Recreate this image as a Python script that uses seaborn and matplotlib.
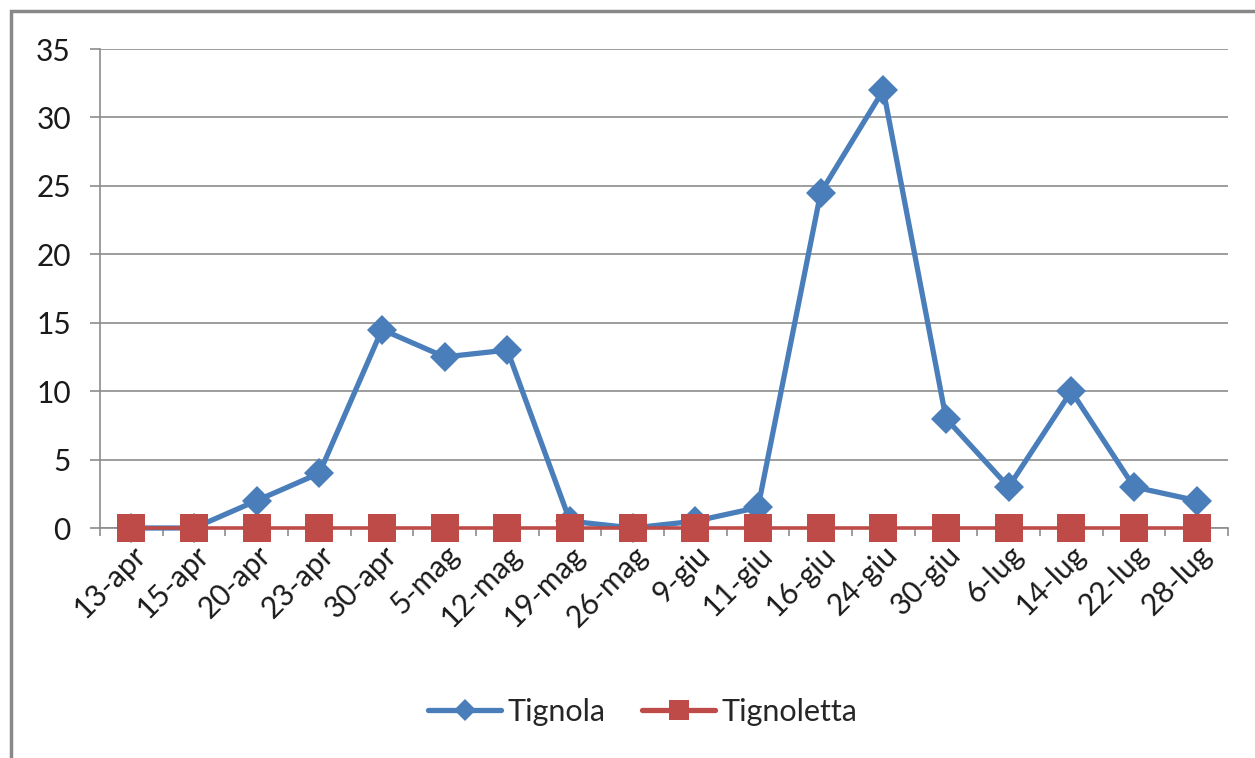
import numpy as np
import pandas as pd
import matplotlib
matplotlib.use("Agg")
import matplotlib.pyplot as plt
from matplotlib.patches import Rectangle
from matplotlib.ticker import FixedLocator
import seaborn as sns

# dati
date_labels = ["13-apr", "15-apr", "20-apr", "23-apr", "30-apr", "5-mag",
               "12-mag", "19-mag", "26-mag", "9-giu", "11-giu", "16-giu",
               "24-giu", "30-giu", "6-lug", "14-lug", "22-lug", "28-lug"]
tignola = [0, 0, 2, 4, 14.5, 12.5, 13, 0.5, 0, 0.5, 1.5, 24.5, 32, 8, 3, 10, 3, 2]
tignoletta = [0] * len(date_labels)
y_ticks = [0, 5, 10, 15, 20, 25, 30, 35]

BLUE = "#4A7EBB"
RED = "#BE4B48"
GREY = "#8C8C8C"

sns.set_theme(style="white")
plt.rcParams["font.family"] = ["Lato", "DejaVu Sans"]

pos = np.arange(len(date_labels))
df = pd.DataFrame({"pos": pos, "Tignola": tignola, "Tignoletta": tignoletta})

fig = plt.figure(figsize=(12.55, 7.58), dpi=100)
ax = fig.add_axes([100 / 1255, 1 - 528 / 758, 1128 / 1255, 479 / 758])

sns.lineplot(data=df, x="pos", y="Tignola", ax=ax, color=BLUE, lw=3.8,
             marker="D", markersize=15.5, markeredgewidth=0, label="Tignola")
sns.lineplot(data=df, x="pos", y="Tignoletta", ax=ax, color=RED, lw=2.6,
             marker="s", markersize=20, markeredgewidth=0, label="Tignoletta")
for line in ax.get_lines():
    line.set_clip_on(False)
    line.set_zorder(5)

ax.set_xlim(-0.5, len(date_labels) - 0.5)
ax.set_ylim(0, 35)
ax.set_xlabel("")
ax.set_ylabel("")

ax.set_yticks(y_ticks)
ax.set_yticklabels([str(t) for t in y_ticks])
ax.set_xticks(pos)
ax.set_xticklabels(date_labels, rotation=45, ha="right", rotation_mode="anchor")
ax.xaxis.set_minor_locator(FixedLocator(np.arange(len(date_labels) + 1) - 0.5))

ax.tick_params(axis="y", which="major", direction="out", length=7, width=1.2,
               color=GREY, pad=14, labelsize=21.5, labelcolor="#1a1a1a", left=True)
ax.tick_params(axis="x", which="major", length=0, pad=9, labelsize=21.5,
               labelcolor="#1a1a1a")
ax.tick_params(axis="x", which="minor", direction="out", length=6, width=1.2,
               color=GREY, bottom=True)

ax.grid(axis="y", color=GREY, lw=1.2)
ax.set_axisbelow(True)
for side in ("top", "right"):
    ax.spines[side].set_visible(False)
for side in ("left", "bottom"):
    ax.spines[side].set_color(GREY)
    ax.spines[side].set_linewidth(1.2)

ax.get_legend().remove()
handles, labels = ax.get_legend_handles_labels()
leg = fig.legend(handles, labels, loc="center", bbox_to_anchor=(0.512, 1 - 712 / 758),
                 ncol=2, frameon=False, fontsize=22, handlelength=2.4,
                 columnspacing=1.2, handletextpad=0.2, markerscale=0.75)
for h in leg.legend_handles:
    h.set_linewidth(3.8)

# cornice del grafico
fig.patches.append(Rectangle((11 / 1255, -0.1), 1.2, 1 - 11 / 758 + 0.1,
                             transform=fig.transFigure, fill=False,
                             edgecolor="#888888", lw=2.5, zorder=0))

fig.savefig("out.png", dpi=100)
